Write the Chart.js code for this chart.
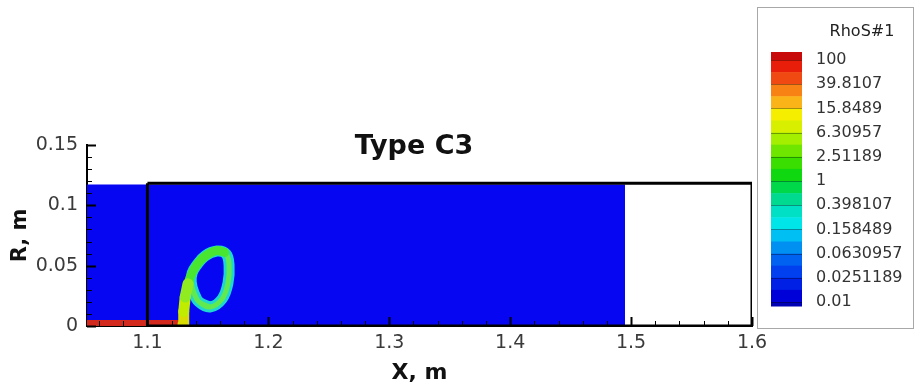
<!DOCTYPE html>
<html>
<head>
<meta charset="utf-8">
<script src="https://cdn.jsdelivr.net/npm/chart.js@4"></script>
<style>
  html, body { margin: 0; padding: 0; background: #fff; }
  #wrap { width: 916px; height: 389px; }
</style>
</head>
<body>
<div id="wrap"><canvas id="plot" width="916" height="389"></canvas></div>
<script>
// axis ranges and tick labels
const xLimits = [1.05, 1.6]
const yLimits = [0, 0.15]
const xTickValues = [1.1, 1.2, 1.3, 1.4, 1.5, 1.6]
const yTickValues = [0, 0.05, 0.1, 0.15]

// flow domain (filled with the 0.01 level) and outline of the chamber
const domainX = [1.05, 1.495]
const domainY = [0.1172, 0.1172]
const boxX = [1.1, 1.6, 1.6, 1.1, 1.1]
const boxY = [0.1182, 0.1182, 0, 0, 0.1182]

// red strip along the axis (high RhoS)
const stripX = [1.05, 1.134]
const stripY = [0.005, 0.005]

// vortex ring of the particle cloud (centre line, goes a bit past its start so the loop closes smoothly)
const ringX = [1.1517, 1.1426, 1.1385, 1.1362, 1.1370, 1.1402, 1.1476, 1.1575, 1.1650, 1.1675, 1.1666, 1.1617, 1.1517, 1.1426, 1.1385]
const ringY = [0.0157, 0.0199, 0.0273, 0.0365, 0.0440, 0.0497, 0.0580, 0.0621, 0.0597, 0.0505, 0.0356, 0.0224, 0.0157, 0.0199, 0.0273]
// denser green part on the upper left of the ring
const arcX = [1.1330, 1.1360, 1.1410, 1.1480, 1.1570, 1.1640]
const arcY = [0.0330, 0.0420, 0.0510, 0.0580, 0.0625, 0.0610]
// stem rising from the axis
const stemX = [1.1294, 1.1300, 1.1312, 1.1335]
const stemY = [0.0015, 0.0120, 0.0240, 0.0350]
const stemColors = ['#d8dc00', '#c0ec00', '#90ec20']

// contour legend
const legendLabels = ['100', '39.8107', '15.8489', '6.30957', '2.51189', '1', '0.398107', '0.158489', '0.0630957', '0.0251189', '0.01']
const legendColors = ['#c80a0a',
  '#e81e0a', '#f04a12', '#f88214', '#fbb418', '#f5ee00', '#d8f000', '#a4ee00', '#6ee600',
  '#3ade00', '#10d810', '#00d84a', '#00da90', '#00e0c4', '#00e6e8', '#00bff2', '#0090f2',
  '#0062f0', '#0040ee', '#0020e6', '#0000d8', '#0000b4']

const pts = (xs, ys) => xs.map((x, i) => ({ x: x, y: ys[i] }))

const FONT = '"DejaVu Sans", Verdana, sans-serif'

// ticks pointing inward, tecplot style, plus title and contour legend
const decorations = {
  id: 'decorations',
  afterDatasetsDraw(chart) {
    const ctx = chart.ctx
    const xs = chart.scales.x, ys = chart.scales.y
    const { left, bottom } = chart.chartArea
    ctx.save()
    ctx.strokeStyle = '#000'
    // y ticks
    for (let v = 0; v <= 0.1501; v += 0.01) {
      const major = yTickValues.some(t => Math.abs(t - v) < 1e-6)
      const py = Math.round(ys.getPixelForValue(v)) + 0.5
      ctx.lineWidth = major ? 2 : 1
      ctx.beginPath()
      ctx.moveTo(left, py)
      ctx.lineTo(left + (major ? 9 : 5), py)
      ctx.stroke()
    }
    // x ticks
    for (let v = 1.06; v <= 1.6001; v += 0.02) {
      const major = xTickValues.some(t => Math.abs(t - v) < 1e-6)
      const px = Math.round(xs.getPixelForValue(v)) + 0.5
      ctx.lineWidth = major ? 2 : 1
      ctx.beginPath()
      ctx.moveTo(px, bottom)
      ctx.lineTo(px, bottom - (major ? 9 : 5))
      ctx.stroke()
    }
    ctx.restore()
  },
  afterDraw(chart) {
    const ctx = chart.ctx
    ctx.save()
    // plot title
    ctx.fillStyle = '#111'
    ctx.font = 'bold 27px ' + FONT
    ctx.textAlign = 'center'
    ctx.textBaseline = 'middle'
    ctx.fillText('Type C3', 414, 147)

    // legend frame
    ctx.strokeStyle = '#a8a8a8'
    ctx.lineWidth = 1
    ctx.strokeRect(757.5, 7.5, 156, 321)
    ctx.fillStyle = '#222'
    ctx.font = '16px ' + FONT
    ctx.fillText('RhoS#1', 862, 32)

    // colour bar
    const barL = 771, barW = 31
    const top = 60, step = 24.2
    const bands = []
    bands.push([52, top])
    for (let i = 0; i < legendLabels.length - 1; i++) {
      bands.push([top + i * step, top + (i + 0.5) * step])
      bands.push([top + (i + 0.5) * step, top + (i + 1) * step])
    }
    bands.push([top + (legendLabels.length - 1) * step, 306])
    bands.forEach((b, i) => {
      ctx.fillStyle = legendColors[i]
      ctx.fillRect(barL, b[0], barW, b[1] - b[0] + 0.5)
    })
    ctx.strokeStyle = 'rgba(0,0,0,0.35)'
    ctx.lineWidth = 1
    for (let i = 0; i < legendLabels.length; i++) {
      const py = Math.round(top + i * step) + 0.5
      ctx.beginPath()
      ctx.moveTo(barL, py)
      ctx.lineTo(barL + barW, py)
      ctx.stroke()
    }
    ctx.fillStyle = '#333'
    ctx.font = '16px ' + FONT
    ctx.textAlign = 'left'
    legendLabels.forEach((t, i) => ctx.fillText(t, 816, top + i * step))
    ctx.restore()
  }
}

new Chart(document.getElementById('plot'), {
  type: 'scatter',
  data: {
    datasets: [
      {
        data: pts(boxX, boxY),
        showLine: true, borderColor: '#000', borderWidth: 3,
        pointRadius: 0, fill: false, order: 0
      },
      {
        data: pts(stemX, stemY),
        showLine: true, borderColor: '#c0ec00', borderWidth: 11,
        segment: { borderColor: c => stemColors[c.p0DataIndex] },
        borderCapStyle: 'round', pointRadius: 0, fill: false, order: 1
      },
      {
        data: pts(arcX, arcY),
        showLine: true, borderColor: '#48e630', borderWidth: 9, tension: 0.4,
        borderCapStyle: 'round', pointRadius: 0, fill: false, order: 2
      },
      {
        data: pts(ringX, ringY),
        showLine: true, borderColor: '#60ea50', borderWidth: 5, tension: 0.4,
        pointRadius: 0, fill: false, order: 3
      },
      {
        data: pts(ringX, ringY),
        showLine: true, borderColor: '#1ed8d0', borderWidth: 11, tension: 0.4,
        pointRadius: 0, fill: false, order: 4
      },
      {
        data: pts(stripX, stripY),
        showLine: true, borderColor: 'rgba(0,0,0,0)', borderWidth: 0,
        backgroundColor: '#d42a1e', pointRadius: 0, fill: 'origin', order: 5
      },
      {
        data: pts(domainX, domainY),
        showLine: true, borderColor: 'rgba(0,0,0,0)', borderWidth: 0,
        backgroundColor: '#0606f2', pointRadius: 0, fill: 'origin', order: 6
      }
    ]
  },
  options: {
    responsive: false,
    animation: false,
    events: [],
    layout: { padding: { left: 0, right: 164, top: 145, bottom: 0 } },
    plugins: { legend: { display: false }, tooltip: { enabled: false } },
    scales: {
      x: {
        type: 'linear', min: xLimits[0], max: xLimits[1],
        afterBuildTicks: s => { s.ticks = xTickValues.map(v => ({ value: v })) },
        afterFit: s => { s.height = 63 },
        grid: { display: false, drawTicks: false },
        border: { display: true, color: '#000', width: 2 },
        ticks: { color: '#3a3a3a', font: { family: FONT, size: 19 }, padding: 6, maxRotation: 0,
                 callback: v => String(v) },
        title: { display: true, text: 'X, m', color: '#111', font: { family: FONT, size: 22, weight: 'bold' }, padding: { top: 0, bottom: 3 } }
      },
      y: {
        type: 'linear', min: yLimits[0], max: yLimits[1],
        afterBuildTicks: s => { s.ticks = yTickValues.map(v => ({ value: v })) },
        afterFit: s => { s.width = 87 },
        grid: { display: false, drawTicks: false },
        border: { display: true, color: '#000', width: 2 },
        ticks: { color: '#3a3a3a', font: { family: FONT, size: 19 }, padding: 9,
                 callback: v => String(v) },
        title: { display: true, text: 'R, m', color: '#111', font: { family: FONT, size: 21, weight: 'bold' }, padding: { top: 8, bottom: 0 } }
      }
    }
  },
  plugins: [decorations]
})
</script>
</body>
</html>
